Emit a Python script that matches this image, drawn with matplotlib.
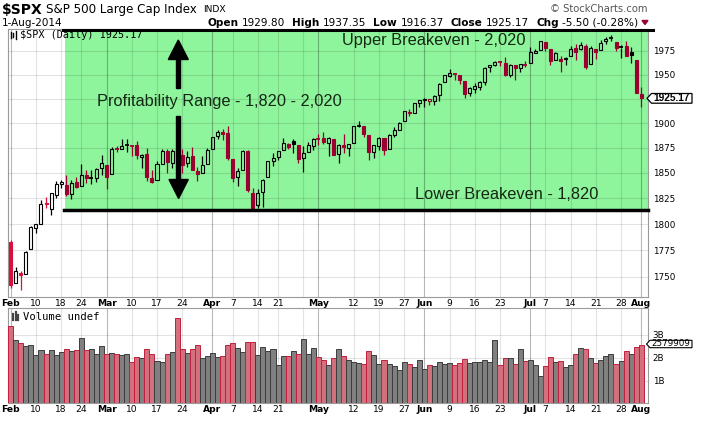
import numpy as np
import pandas as pd
import matplotlib
matplotlib.use("Agg")
import matplotlib.pyplot as plt
from matplotlib.patches import Polygon, Rectangle

W, H = 701, 421

# --- data ---
holidays = ["2014-02-17", "2014-04-18", "2014-05-26", "2014-07-04"]
dates = pd.bdate_range("2014-02-03", "2014-08-01", freq="C", holidays=holidays)
prev_close = 1782.59  # close of Jan 31

opens = [1782.68, 1743.82, 1753.38, 1752.99, 1776.01, 1796.20, 1800.45, 1820.12, 1814.82, 1828.46,
         1839.03, 1838.22, 1829.24, 1841.07, 1836.78, 1847.66, 1845.79, 1844.90, 1855.12,
         1857.68, 1849.23, 1874.05, 1874.18, 1878.52, 1877.86, 1878.26, 1866.15, 1869.06, 1845.07,
         1842.81, 1858.92, 1872.25, 1860.09, 1874.53, 1867.67, 1859.48, 1867.09, 1852.11, 1850.07, 1859.16,
         1873.96, 1886.61, 1891.43, 1890.25, 1863.92, 1845.48, 1852.64, 1872.28, 1830.65, 1818.18,
         1831.45, 1846.01, 1861.73, 1865.79, 1872.57, 1879.32, 1881.97, 1877.72, 1865.00, 1870.78, 1877.10,
         1884.39, 1885.30, 1879.45, 1883.69, 1868.53, 1877.39, 1875.27, 1880.03, 1896.75, 1897.13,
         1888.16, 1871.19, 1876.66, 1884.88, 1873.34, 1888.19, 1893.32, 1902.01, 1911.77, 1910.60, 1920.33,
         1923.87, 1923.07, 1923.06, 1928.52, 1942.41, 1948.97, 1950.34, 1949.37, 1943.35, 1930.80,
         1934.84, 1937.15, 1942.73, 1957.50, 1960.45, 1962.92, 1961.97, 1949.27, 1959.89, 1956.56, 1960.79,
         1962.29, 1973.06, 1975.88, 1984.22, 1976.39, 1965.10, 1966.67, 1965.76, 1969.86, 1977.36,
         1976.35, 1979.75, 1961.54, 1976.93, 1975.65, 1985.32, 1988.07, 1984.60, 1978.25, 1980.03, 1973.21, 1965.14,
         1929.80]
highs = [1784.83, 1758.73, 1755.79, 1774.06, 1798.03, 1799.94, 1823.54, 1826.55, 1830.25, 1841.65,
         1842.87, 1847.50, 1842.79, 1846.13, 1858.71, 1852.91, 1852.65, 1854.53, 1867.92,
         1857.68, 1876.23, 1876.53, 1883.57, 1883.57, 1877.87, 1882.35, 1868.38, 1874.40, 1852.44,
         1862.30, 1873.76, 1874.14, 1873.49, 1883.97, 1873.34, 1871.87, 1875.92, 1855.55, 1866.63, 1875.18,
         1885.84, 1893.17, 1893.80, 1897.28, 1864.04, 1854.95, 1872.43, 1872.53, 1835.07, 1834.19,
         1844.02, 1862.31, 1869.63, 1871.89, 1884.89, 1879.75, 1884.06, 1877.72, 1877.01, 1880.60, 1885.20,
         1888.59, 1891.33, 1885.51, 1883.69, 1878.83, 1889.07, 1878.57, 1897.13, 1902.17, 1897.13,
         1888.16, 1878.28, 1886.00, 1884.88, 1888.80, 1896.33, 1901.26, 1912.28, 1914.46, 1920.03, 1924.03,
         1925.88, 1925.07, 1928.63, 1941.15, 1949.44, 1955.55, 1950.86, 1949.37, 1943.35, 1937.30,
         1941.15, 1943.69, 1957.74, 1959.87, 1963.91, 1963.74, 1968.17, 1960.83, 1959.89, 1961.47, 1964.24,
         1978.58, 1976.67, 1985.59, 1984.22, 1976.39, 1974.15, 1969.84, 1968.67, 1979.85, 1982.52,
         1983.94, 1981.80, 1979.91, 1976.93, 1986.24, 1989.23, 1991.39, 1984.60, 1981.52, 1984.85, 1978.90, 1965.14,
         1937.35]
lows = [1739.66, 1743.82, 1737.92, 1752.99, 1776.01, 1791.83, 1800.41, 1815.97, 1809.22, 1825.59,
        1835.01, 1826.99, 1824.58, 1835.60, 1836.78, 1840.19, 1838.62, 1841.13, 1847.67,
        1834.44, 1849.23, 1871.11, 1874.18, 1870.56, 1867.04, 1863.88, 1854.38, 1841.86, 1839.57,
        1842.81, 1858.92, 1850.35, 1854.63, 1863.46, 1849.69, 1855.96, 1852.56, 1842.11, 1850.07, 1859.16,
        1873.96, 1883.79, 1882.65, 1863.26, 1841.48, 1837.49, 1852.38, 1830.87, 1814.36, 1815.80,
        1816.29, 1846.01, 1856.72, 1863.18, 1872.57, 1873.91, 1870.24, 1859.70, 1850.61, 1870.78, 1872.69,
        1878.04, 1878.50, 1866.77, 1867.72, 1859.79, 1870.05, 1867.02, 1880.03, 1896.06, 1885.77,
        1862.36, 1864.82, 1872.42, 1868.14, 1873.34, 1885.39, 1893.32, 1902.01, 1907.30, 1909.82, 1915.98,
        1915.98, 1918.79, 1918.60, 1922.93, 1942.41, 1947.16, 1944.64, 1940.08, 1925.78, 1927.69,
        1930.91, 1933.55, 1939.29, 1952.26, 1959.17, 1958.89, 1948.34, 1947.49, 1944.69, 1952.18, 1958.22,
        1962.29, 1972.58, 1975.88, 1974.88, 1959.46, 1965.10, 1952.86, 1959.63, 1969.86, 1965.34,
        1975.67, 1955.59, 1960.82, 1965.77, 1975.65, 1982.44, 1985.79, 1974.37, 1967.31, 1969.95, 1962.42, 1930.67,
        1916.37]
closes = [1741.89, 1755.20, 1751.64, 1773.43, 1797.02, 1799.84, 1819.75, 1819.26, 1829.83, 1838.63,
          1840.76, 1828.75, 1839.78, 1836.25, 1847.61, 1845.12, 1845.16, 1854.29, 1859.45,
          1845.73, 1873.91, 1873.81, 1877.03, 1878.04, 1877.17, 1867.63, 1868.20, 1846.34, 1841.13,
          1858.83, 1872.25, 1860.77, 1872.01, 1866.52, 1857.44, 1865.62, 1852.56, 1849.04, 1857.62, 1872.34,
          1885.52, 1890.90, 1888.77, 1865.09, 1845.04, 1851.96, 1872.18, 1833.08, 1815.69, 1830.61,
          1842.98, 1862.31, 1864.85, 1871.89, 1879.55, 1875.39, 1878.61, 1863.40, 1869.43, 1878.33, 1883.95,
          1883.68, 1881.14, 1884.66, 1867.72, 1878.21, 1875.63, 1878.48, 1896.65, 1897.45, 1888.53,
          1870.85, 1877.86, 1885.08, 1872.83, 1888.03, 1892.49, 1900.53, 1911.91, 1909.78, 1920.03, 1923.57,
          1924.97, 1924.24, 1927.88, 1940.46, 1949.44, 1951.27, 1950.79, 1943.89, 1930.11, 1936.16,
          1937.78, 1941.99, 1956.98, 1959.48, 1962.87, 1962.61, 1949.98, 1959.53, 1957.22, 1960.96, 1960.23,
          1973.32, 1974.62, 1985.44, 1977.65, 1963.71, 1972.83, 1964.68, 1967.57, 1977.10, 1973.28,
          1981.57, 1958.12, 1978.22, 1973.63, 1983.53, 1987.01, 1987.98, 1978.34, 1978.91, 1969.95, 1970.07, 1930.67,
          1925.17]
# volume in billions
volume = [3.41, 2.78, 2.65, 2.53, 2.56, 2.13, 2.35, 2.18, 2.35, 2.13,
          2.23, 2.39, 2.30, 2.35, 2.87, 2.35, 2.39, 2.17, 2.52, 2.17,
          2.22, 2.18, 2.13, 2.17, 1.82, 2.04, 2.00, 2.39, 2.17, 1.86,
          1.82, 2.17, 2.26, 3.76, 2.39, 2.22, 2.39, 2.57, 2.00, 2.08,
          2.22, 2.04, 2.08, 2.57, 2.65, 2.43, 2.26, 2.70, 2.70, 2.13,
          2.48, 2.30, 2.39, 1.69, 2.08, 2.08, 2.30, 2.18, 2.83, 2.17,
          2.43, 2.04, 1.91, 1.69, 2.00, 2.39, 2.08, 1.91, 1.83, 1.79,
          1.73, 2.30, 2.14, 1.73, 1.91, 1.73, 1.64, 1.44, 1.83, 1.73,
          1.61, 1.91, 1.51, 1.70, 1.64, 1.83, 1.73, 1.76, 1.70, 1.76,
          1.95, 1.76, 1.83, 1.83, 1.91, 1.83, 2.78, 1.70, 2.00, 2.00,
          1.73, 2.39, 1.86, 1.91, 1.70, 1.22, 1.64, 2.04, 1.83, 1.86,
          1.60, 1.69, 2.17, 2.43, 2.39, 2.00, 1.78, 1.91, 2.08, 2.17,
          1.73, 1.86, 2.30, 2.17, 2.45, 2.58]

tick_dates = ["2014-02-03", "2014-02-10", "2014-02-18", "2014-02-24", "2014-03-03", "2014-03-10",
              "2014-03-17", "2014-03-24", "2014-04-01", "2014-04-07", "2014-04-14", "2014-04-21",
              "2014-05-01", "2014-05-12", "2014-05-19", "2014-05-27", "2014-06-02", "2014-06-09",
              "2014-06-16", "2014-06-23", "2014-07-01", "2014-07-07", "2014-07-14", "2014-07-21",
              "2014-07-28", "2014-08-01"]
tick_labels = ["Feb", "10", "18", "24", "Mar", "10", "17", "24", "Apr", "7", "14", "21",
               "May", "12", "19", "27", "Jun", "9", "16", "23", "Jul", "7", "14", "21", "28", "Aug"]
extra_grid_dates = ["2014-04-28"]
price_grid = [1750, 1775, 1800, 1825, 1850, 1875, 1900, 1925, 1950, 1975]
price_labels = [1750, 1775, 1800, 1825, 1850, 1875, 1900, 1950, 1975]  # 1925 hidden by last-value tag
vol_ticks = [1, 2, 3]

# --- styling ---
GREEN = "#8ef59c"
RED_OUT = "#d8103c"
RED_IN = "#9c0030"
VOL_RED, VOL_RED_EDGE = "#d2707e", "#c0203e"
VOL_GREY, VOL_GREY_EDGE = "#808080", "#3c3c3c"
TXT = "#142814"


def fx(x):
    return x / W


def fy(y):
    return 1 - y / H


fig = plt.figure(figsize=(W / 100, H / 100), dpi=100)
fig.patch.set_facecolor("white")

ax = fig.add_axes([fx(8.3), fy(296.7), 640 / W, (296.7 - 29) / H])
axv = fig.add_axes([fx(8.3), fy(403.3), 640 / W, 95 / H])

n = len(closes)
idx = np.arange(n)
tick_idx = [dates.get_loc(pd.Timestamp(d)) for d in tick_dates]
grid_idx = tick_idx + [dates.get_loc(pd.Timestamp(d)) for d in extra_grid_dates]
month_idx = [i for i, lab in zip(tick_idx, tick_labels) if lab.isalpha()]

prevs = [prev_close] + closes[:-1]
down = [c < p for c, p in zip(closes, prevs)]

for a in (ax, axv):
    a.set_xlim(-0.48, 126.4)
    for i in grid_idx:
        a.axvline(i, color="k", alpha=0.28 if i in month_idx else 0.11, lw=0.8, zorder=1)
    for s in a.spines.values():
        s.set_color("#9a9a9a")
        s.set_linewidth(0.8)
    a.set_xticks(tick_idx)
    a.set_xticklabels(tick_labels)
    a.tick_params(axis="x", length=0, pad=1.5, labelsize=6.6)
    for t, lab in zip(a.get_xticklabels(), tick_labels):
        if lab.isalpha():
            t.set_fontweight("bold")
    a.yaxis.tick_right()
    a.tick_params(axis="y", length=0, pad=3.2, labelsize=6.3)

# price panel
ax.set_yscale("log")
ax.set_ylim(1731.4, 1998.1)
ax.yaxis.set_minor_locator(matplotlib.ticker.NullLocator())
ax.set_yticks(price_labels)
ax.set_yticklabels([str(p) for p in price_labels])
for p in price_grid:
    ax.axhline(p, color="k", alpha=0.11, lw=0.8, zorder=1)

# profitability zone background (annotation layer, figure pixels)
ax.add_patch(Rectangle((fx(64.5), fy(210)), (648.3 - 64.5) / W, 180 / H,
                       transform=fig.transFigure, facecolor=GREEN, edgecolor="none", zorder=0.5))

for i in range(n):
    o, h, l, c = opens[i], highs[i], lows[i], closes[i]
    col = (RED_IN if i >= 11 else RED_OUT) if down[i] else "black"
    top, bot = max(o, c), min(o, c)
    ax.vlines(i, top, h, color=col, lw=0.9, zorder=3)
    ax.vlines(i, l, bot, color=col, lw=0.9, zorder=3)
    if top - bot < 0.8:
        ax.hlines(c, i - 0.4, i + 0.4, color=col, lw=1.3, zorder=4)
    else:
        ax.bar(i, top - bot, bottom=bot, width=0.6,
               facecolor="none" if c >= o else col, edgecolor=col, lw=0.8, zorder=4)

# volume panel
axv.set_ylim(0, 4.17)
axv.set_yticks(vol_ticks)
axv.set_yticklabels([f"{v}B" for v in vol_ticks])
for v in vol_ticks:
    axv.axhline(v, color="k", alpha=0.11, lw=0.8, zorder=1)
axv.bar(idx, volume, width=1.0,
        color=[VOL_RED if d else VOL_GREY for d in down],
        edgecolor=[VOL_RED_EDGE if d else VOL_GREY_EDGE for d in down], lw=0.7, zorder=3)

# --- annotation layer ---
fig.add_artist(plt.Line2D([fx(63.3), fx(652.7)], [fy(29.5), fy(29.5)], color="black", lw=2.2))
fig.add_artist(plt.Line2D([fx(64.3), fx(648.3)], [fy(210), fy(210)], color="black", lw=2.5))


def poly(pts, **kw):
    fig.add_artist(Polygon([(fx(x), fy(y)) for x, y in pts], closed=True,
                           transform=fig.transFigure, **kw))


# arrows
poly([(176.3, 58), (180.3, 58), (180.3, 88), (176.3, 88)], color="black")
poly([(168.3, 59.5), (188.3, 59.5), (178.3, 40)], color="black")
poly([(176.3, 116), (180.3, 116), (180.3, 181), (176.3, 181)], color="black")
poly([(169.0, 179.5), (188.3, 179.5), (178.6, 198.5)], color="black")

ann = dict(fontsize=11.8, color=TXT, family="Liberation Sans", va="center", ha="left")
fig.text(fx(97), fy(101.7), "Profitability Range - 1,820 - 2,020", **ann)
fig.text(fx(341.5), fy(40.5), "Upper Breakeven - 2,020", **ann)
fig.text(fx(415), fy(194.3), "Lower Breakeven - 1,820", **ann)

# header
fig.text(fx(2), fy(9.5), "$SPX", fontsize=10, fontweight="bold", va="center")
fig.text(fx(45.5), fy(9.5), "S&P 500 Large Cap Index", fontsize=8.6, va="center")
fig.text(fx(203), fy(10), "INDX", fontsize=6.6, va="center")
fig.text(fx(2), fy(23), "1-Aug-2014", fontsize=7.5, va="center")
fig.text(fx(648), fy(9), "\u00a9 StockCharts.com", fontsize=7.2, color="#555555", va="center", ha="right")

renderer = fig.canvas.get_renderer()
runs = [("Open", "bold"), ("1929.80", "normal"), ("High", "bold"), ("1937.35", "normal"),
        ("Low", "bold"), ("1916.37", "normal"), ("Close", "bold"), ("1925.17", "normal"),
        ("Chg", "bold"), ("-5.50 (-0.28%)", "normal")]
objs = [fig.text(0, fy(22.5), t, fontsize=7.6, fontweight=w, va="center") for t, w in runs]
gaps = [3.5, 7, 3.5, 7, 3.5, 7, 3.5, 7, 3.5, 0]
widths = [o.get_window_extent(renderer).width for o in objs]
x0 = 638.5 - sum(widths) - sum(gaps)
for o, w, g in zip(objs, widths, gaps):
    o.set_x(fx(x0))
    x0 += w + g
poly([(642, 20.5), (648, 20.5), (645, 24.5)], color="#990033")

# legends inside panels
fig.text(fx(20), fy(34.8), "$SPX (Daily) 1925.17", fontsize=7.3, family="DejaVu Sans Mono", va="center")
fig.text(fx(23), fy(316.7), "Volume undef", fontsize=7.6, family="DejaVu Sans Mono", va="center")
for x, y0, y1 in [(11, 31.5, 38), (13.5, 32.5, 37), (16, 31, 38.5)]:
    fig.add_artist(plt.Line2D([fx(x), fx(x)], [fy(y0), fy(y1)], color="black", lw=1.0))
for x, y0 in [(13, 314), (15.5, 312), (18, 315)]:
    fig.add_artist(plt.Line2D([fx(x), fx(x)], [fy(y0), fy(320)], color="#444444", lw=1.6))

# last value tags
poly([(647, 98.3), (651.5, 93.5), (692, 93.5), (692, 103.2), (651.5, 103.2)],
     facecolor="white", edgecolor="black", lw=0.9)
fig.text(fx(671.5), fy(98.3), "1925.17", fontsize=7.3, fontweight="bold",
         family="Liberation Sans", va="center", ha="center")
poly([(646.5, 344), (650, 340.3), (692, 340.3), (692, 347.7), (650, 347.7)],
     facecolor="white", edgecolor="black", lw=0.8)
fig.text(fx(671), fy(344), "2579909", fontsize=6.3, va="center", ha="center")

fig.savefig("out.png", dpi=100)
